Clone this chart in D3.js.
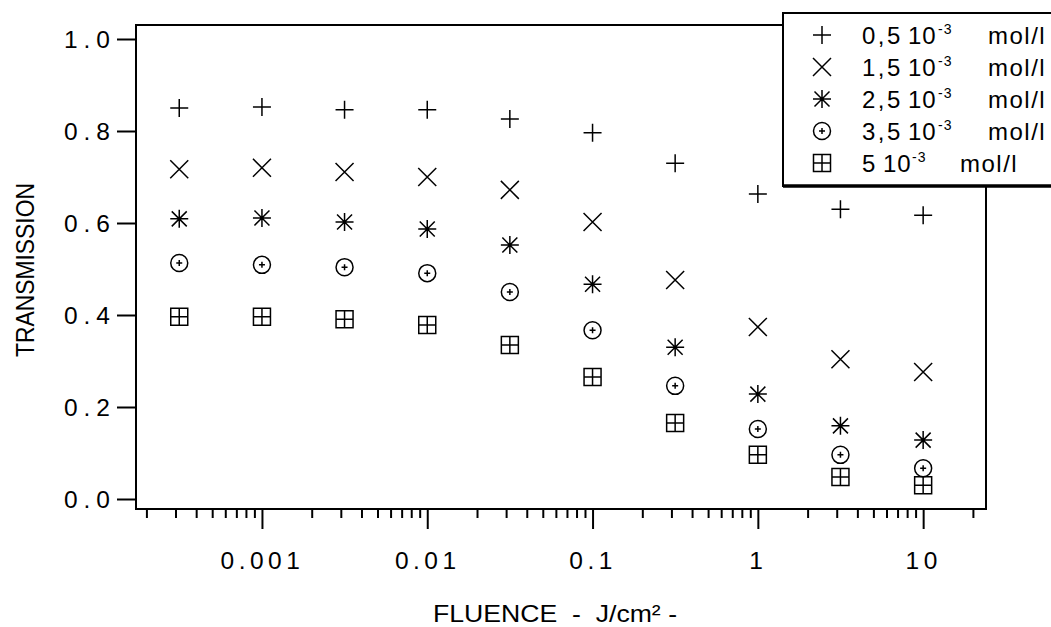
<!DOCTYPE html>
<html>
<head>
<meta charset="utf-8">
<script src="https://cdn.jsdelivr.net/npm/d3@7"></script>
<style>
  html, body { margin: 0; padding: 0; background: #fff; }
  svg { display: block; font-family: "Liberation Sans", Arial, Helvetica, sans-serif; }
</style>
</head>
<body>
<svg id="chart" width="1051" height="627"></svg>
<script>
// ---- data ----
const fluence = [0.000316, 0.001, 0.00316, 0.01, 0.0316, 0.1, 0.316, 1, 3.16, 10];
const seriesNames = ["0,5", "1,5", "2,5", "3,5", "5"];
const seriesSymbols = ["plus", "cross", "star", "circle", "square"];
const t05 = [0.850, 0.852, 0.846, 0.846, 0.826, 0.796, 0.730, 0.663, 0.630, 0.617];
const t15 = [0.717, 0.720, 0.711, 0.700, 0.672, 0.602, 0.476, 0.374, 0.304, 0.276];
const t25 = [0.609, 0.611, 0.602, 0.587, 0.552, 0.467, 0.330, 0.228, 0.159, 0.128];
const t35 = [0.513, 0.509, 0.504, 0.491, 0.450, 0.367, 0.246, 0.152, 0.096, 0.067];
const t50 = [0.396, 0.396, 0.391, 0.378, 0.335, 0.265, 0.165, 0.096, 0.048, 0.030];
const seriesValues = [t05, t15, t25, t35, t50];
const yTickValues = [0, 0.2, 0.4, 0.6, 0.8, 1.0];
const xMajorTicks = [0.001, 0.01, 0.1, 1, 10];
const xLabels = ["0.001", "0.01", "0.1", "1", "10"];
const xTitle = "FLUENCE  -  J/cm² -";
const yTitle = "TRANSMISSION";

// ---- layout ----
const svg = d3.select("#chart");
const FONT = "Liberation Sans, Arial, sans-serif";
const L = 136, R = 986, T = 25, B = 509;
const x = d3.scaleLog().domain([1.73e-4, 24]).range([L, R]);
const y = d3.scaleLinear().domain([0, 1]).range([499, 39]);

svg.append("rect").attr("width", 1051).attr("height", 627).attr("fill", "#fff");

// marker path generator
function marker(type, cx, cy) {
  const p = d3.path();
  if (type === "plus") {
    const h = 9;
    p.moveTo(cx - h, cy); p.lineTo(cx + h, cy);
    p.moveTo(cx, cy - h); p.lineTo(cx, cy + h);
  } else if (type === "cross") {
    const h = 9;
    p.moveTo(cx - h, cy - h); p.lineTo(cx + h, cy + h);
    p.moveTo(cx - h, cy + h); p.lineTo(cx + h, cy - h);
  } else if (type === "star") {
    const h = 9, d = 7.5;
    p.moveTo(cx - h, cy); p.lineTo(cx + h, cy);
    p.moveTo(cx, cy - h); p.lineTo(cx, cy + h);
    p.moveTo(cx - d, cy - d); p.lineTo(cx + d, cy + d);
    p.moveTo(cx - d, cy + d); p.lineTo(cx + d, cy - d);
  } else if (type === "circle") {
    const r = 8.5, s = 3;
    p.moveTo(cx + r, cy); p.arc(cx, cy, r, 0, 2 * Math.PI);
    p.moveTo(cx - s, cy); p.lineTo(cx + s, cy);
    p.moveTo(cx, cy - s); p.lineTo(cx, cy + s);
  } else if (type === "square") {
    const h = 8.5;
    p.rect(cx - h, cy - h, 2 * h, 2 * h);
    p.moveTo(cx - h, cy); p.lineTo(cx + h, cy);
    p.moveTo(cx, cy - h); p.lineTo(cx, cy + h);
  }
  return p.toString();
}

// ---- axes ----
const yAxis = d3.axisLeft(y).tickValues(yTickValues).tickSize(19).tickPadding(0).tickFormat(d3.format(".1f"));
const gy = svg.append("g").attr("transform", `translate(${L},0)`).call(yAxis);
gy.select(".domain").remove();
gy.selectAll(".tick line").attr("stroke", "#000").attr("stroke-width", 2);
gy.selectAll(".tick text")
  .attr("x", -26 + 6).attr("dy", "0.36em")
  .attr("font-size", 24.5).attr("letter-spacing", 6)
  .attr("font-family", FONT).attr("fill", "#000");

const allTicks = x.ticks().filter(d => d >= x.domain()[0] && d <= x.domain()[1]);
const minorTicks = allTicks.filter(d => Math.abs(Math.log10(d) - Math.round(Math.log10(d))) > 1e-6);
const gxMinor = svg.append("g").attr("transform", `translate(0,${B})`)
  .call(d3.axisBottom(x).tickValues(minorTicks).tickSize(9).tickFormat(""));
gxMinor.select(".domain").remove();
gxMinor.selectAll(".tick line").attr("stroke", "#000").attr("stroke-width", 2);

const gxMajor = svg.append("g").attr("transform", `translate(0,${B})`)
  .call(d3.axisBottom(x).tickValues(xMajorTicks).tickSize(20).tickFormat((d, i) => xLabels[i]));
gxMajor.select(".domain").remove();
gxMajor.selectAll(".tick line").attr("stroke", "#000").attr("stroke-width", 2);
gxMajor.selectAll(".tick text")
  .attr("y", 60).attr("dy", 0).attr("dx", 0)
  .attr("font-size", 24.5).attr("letter-spacing", 4.5)
  .attr("font-family", FONT).attr("fill", "#000");

// frame
svg.append("path")
  .attr("d", `M${L},${T}H${R}V${B}H${L}Z`)
  .attr("fill", "none").attr("stroke", "#000").attr("stroke-width", 2);

// ---- markers ----
seriesValues.forEach((vals, si) => {
  svg.append("g").selectAll("path").data(vals).join("path")
    .attr("d", (v, i) => marker(seriesSymbols[si], x(fluence[i]), y(v)))
    .attr("fill", "none").attr("stroke", "#000").attr("stroke-width", 1.5);
});

// ---- titles ----
svg.append("text").attr("x", 433).attr("y", 622)
  .attr("font-size", 24).attr("fill", "#000")
  .attr("textLength", 244).attr("lengthAdjust", "spacingAndGlyphs")
  .style("white-space", "pre").text(xTitle);
svg.append("text").attr("transform", "translate(34,270) rotate(-90)").attr("text-anchor", "middle")
  .attr("font-size", 25).attr("fill", "#000")
  .attr("textLength", 174).attr("lengthAdjust", "spacingAndGlyphs").text(yTitle);

// ---- legend ----
const lg = svg.append("g");
lg.append("rect").attr("x", 783).attr("y", 13).attr("width", 290).attr("height", 173)
  .attr("fill", "#fff").attr("stroke", "#000").attr("stroke-width", 2);
lg.append("line").attr("x1", 783).attr("x2", 1060).attr("y1", 186).attr("y2", 186)
  .attr("stroke", "#000").attr("stroke-width", 3.5);
seriesNames.forEach((name, i) => {
  const cy = 35 + i * 32;
  const off = name.length > 1 ? [0, 46, 76, 126] : [0, 21, 50, 98];
  lg.append("path").attr("d", marker(seriesSymbols[i], 822, cy))
    .attr("fill", "none").attr("stroke", "#000").attr("stroke-width", 1.5);
  const t = lg.append("text").attr("y", cy + 8.5)
    .attr("font-size", 24).attr("fill", "#000");
  t.append("tspan").attr("x", 862 + off[0]).attr("letter-spacing", 2.5).text(name);
  t.append("tspan").attr("x", 862 + off[1]).attr("letter-spacing", 1).text("10");
  t.append("tspan").attr("x", 862 + off[2]).attr("dy", -10).attr("font-size", 14).attr("letter-spacing", 1).text("-3");
  t.append("tspan").attr("x", 862 + off[3]).attr("dy", 10).attr("letter-spacing", 1.5).text("mol/l");
});
</script>
</body>
</html>
